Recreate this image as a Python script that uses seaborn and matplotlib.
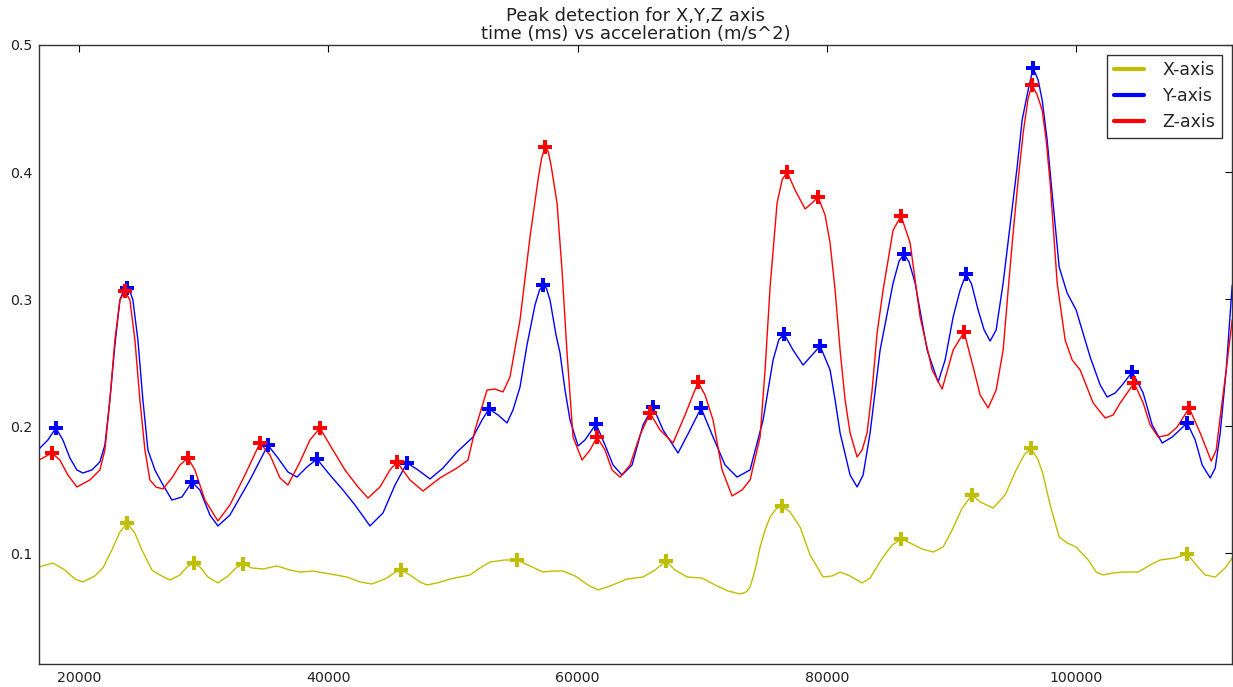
import matplotlib
matplotlib.use("Agg")
import matplotlib.pyplot as plt
import seaborn as sns
import pandas as pd

# ---- accelerometer magnitudes (time in ms) ----
x_time = [16800, 17914, 18877, 19679, 20321, 21284, 21926, 22648, 23290, 23851, 24493, 25055,
          25456, 25857, 26339, 27302, 28104, 28666, 29228, 29709, 30351, 31153, 31956, 32598,
          33159, 33881, 34764, 35887, 36931, 37733, 38776, 40140, 41504, 42547, 43510, 44152,
          44714, 45276, 45837, 46559, 47362, 47923, 48726, 49769, 51374, 52176, 52979, 54182,
          55145, 56188, 57231, 58034, 58836, 59799, 60842, 61645, 62607, 63971, 65255, 66218,
          67101, 67823, 68786, 69989, 71033, 72076, 73039, 73520, 73841, 74242, 74643, 75045,
          75446, 75900, 76409, 77051, 77853, 78655, 79699, 80421, 81063, 81865, 82828, 83470,
          84112, 84513, 85235, 85957, 86679, 87642, 88525, 89327, 90049, 90852, 91654, 92296,
          93339, 94302, 95185, 95827, 96388, 96950, 97311, 97913, 98635, 99277, 99999, 100962,
          101604, 102166, 102968, 103771, 104974, 105937, 106739, 107943, 108906, 109628,
          110350, 111153, 111955, 112517]
x_acc = [0.0890, 0.0921, 0.0866, 0.0795, 0.0772, 0.0819, 0.0882, 0.1024, 0.1165, 0.1236, 0.1157,
         0.1024, 0.0945, 0.0866, 0.0835, 0.0787, 0.0827, 0.0890, 0.0921, 0.0890, 0.0811, 0.0764,
         0.0819, 0.0882, 0.0913, 0.0882, 0.0874, 0.0898, 0.0866, 0.0850, 0.0858, 0.0835, 0.0811,
         0.0772, 0.0756, 0.0780, 0.0803, 0.0843, 0.0866, 0.0827, 0.0772, 0.0748, 0.0764, 0.0795,
         0.0827, 0.0882, 0.0929, 0.0945, 0.0945, 0.0898, 0.0850, 0.0858, 0.0858, 0.0819, 0.0748,
         0.0709, 0.0740, 0.0795, 0.0811, 0.0866, 0.0937, 0.0866, 0.0811, 0.0803, 0.0748, 0.0701,
         0.0677, 0.0693, 0.0732, 0.0866, 0.1047, 0.1181, 0.1283, 0.1345, 0.1370, 0.1323, 0.1205,
         0.0984, 0.0811, 0.0819, 0.0850, 0.0819, 0.0764, 0.0803, 0.0906, 0.0969, 0.1063, 0.1110,
         0.1079, 0.1031, 0.1008, 0.1047, 0.1181, 0.1354, 0.1457, 0.1402, 0.1354, 0.1457, 0.1654,
         0.1772, 0.1827, 0.1732, 0.1630, 0.1378, 0.1126, 0.1079, 0.1047, 0.0945, 0.0850, 0.0827,
         0.0843, 0.0850, 0.0850, 0.0906, 0.0945, 0.0961, 0.0992, 0.0906, 0.0827, 0.0811, 0.0882,
         0.0961]

y_time = [16800, 17513, 18154, 18716, 19278, 19839, 20321, 21043, 21685, 22086, 22487, 22889,
          23290, 23600, 23851, 24100, 24333, 24734, 25135, 25537, 26098, 26660, 27462, 28265,
          29067, 29709, 30511, 31153, 32116, 33721, 35165, 35968, 36770, 37492, 38295, 39097,
          40140, 41183, 42146, 43350, 44393, 45356, 46319, 47201, 48164, 49207, 50331, 51615,
          52337, 52898, 53621, 54343, 54824, 55386, 55947, 56589, 56950, 57231, 57500, 57793,
          58274, 58595, 58997, 59398, 60040, 60601, 61484, 62206, 62848, 63570, 64373, 65255,
          66058, 66860, 68064, 69027, 69909, 70872, 71835, 72798, 73841, 74884, 75687, 76150,
          76569, 77291, 78094, 78816, 79458, 80260, 80661, 81063, 81865, 82427, 82908, 83470,
          84272, 85315, 85800, 86198, 86600, 87081, 88043, 88926, 89488, 90130, 90691, 91173,
          91600, 92136, 92617, 93099, 93580, 94142, 94703, 95265, 95666, 96148, 96549, 96950,
          97271, 97672, 97994, 98635, 99277, 99999, 101123, 101925, 102487, 103129, 103690,
          104493, 105375, 106097, 106900, 107702, 108906, 109548, 110109, 110751, 111153,
          111554, 112035, 112517]
y_acc = [0.1819, 0.1890, 0.1984, 0.1890, 0.1748, 0.1654, 0.1630, 0.1654, 0.1717, 0.1850, 0.2205,
         0.2638, 0.2992, 0.3070, 0.3087, 0.3060, 0.2992, 0.2677, 0.2205, 0.1811, 0.1654, 0.1551,
         0.1417, 0.1441, 0.1559, 0.1496, 0.1299, 0.1213, 0.1299, 0.1575, 0.1850, 0.1748, 0.1638,
         0.1598, 0.1677, 0.1740, 0.1614, 0.1496, 0.1378, 0.1213, 0.1315, 0.1535, 0.1709, 0.1654,
         0.1583, 0.1669, 0.1795, 0.1913, 0.2047, 0.2134, 0.2087, 0.2024, 0.2126, 0.2307, 0.2638,
         0.2953, 0.3070, 0.3110, 0.3085, 0.2992, 0.2717, 0.2575, 0.2283, 0.2047, 0.1843, 0.1890,
         0.2016, 0.1850, 0.1693, 0.1614, 0.1693, 0.2008, 0.2150, 0.1969, 0.1787, 0.1969, 0.2142,
         0.1913, 0.1693, 0.1598, 0.1654, 0.2047, 0.2520, 0.2680, 0.2724, 0.2598, 0.2480, 0.2559,
         0.2630, 0.2441, 0.2205, 0.1945, 0.1614, 0.1520, 0.1614, 0.1945, 0.2598, 0.3126, 0.3300,
         0.3354, 0.3290, 0.3126, 0.2598, 0.2346, 0.2520, 0.2858, 0.3071, 0.3197, 0.3120, 0.2913,
         0.2756, 0.2669, 0.2756, 0.3126, 0.3583, 0.4039, 0.4409, 0.4646, 0.4819, 0.4724, 0.4567,
         0.4252, 0.3913, 0.3252, 0.3047, 0.2913, 0.2543, 0.2323, 0.2228, 0.2260, 0.2323, 0.2425,
         0.2260, 0.2008, 0.1866, 0.1913, 0.2024, 0.1890, 0.1693, 0.1591, 0.1669, 0.1945, 0.2441,
         0.3110]

z_time = [16800, 17833, 18475, 19117, 19839, 20883, 21685, 22086, 22487, 22889, 23290, 23691,
          24092, 24493, 24895, 25296, 25697, 26178, 26740, 27462, 28104, 28746, 29308, 30110,
          31153, 32116, 33320, 34523, 35326, 36128, 36770, 37733, 38535, 39338, 40140, 41344,
          42387, 43189, 44152, 44955, 45516, 46559, 47603, 48967, 50331, 51213, 51775, 52738,
          53380, 54022, 54583, 55386, 56188, 56830, 57120, 57392, 57650, 57873, 58355, 58756,
          59157, 59639, 60361, 61003, 61564, 62206, 62768, 63410, 64212, 65015, 65817, 66619,
          67663, 68625, 69669, 70230, 70872, 71594, 72397, 73199, 73841, 74643, 75045, 75446,
          76007, 76420, 76810, 77452, 78254, 78816, 79297, 79859, 80260, 80661, 81063, 81464,
          81865, 82427, 82828, 83229, 83630, 84031, 84513, 85315, 85957, 86679, 87081, 87482,
          88445, 89247, 90130, 91012, 91735, 92296, 92938, 93580, 94142, 94543, 94944, 95345,
          95747, 96148, 96469, 96870, 97271, 97592, 97913, 98475, 99117, 99678, 100320, 101364,
          102326, 102968, 103530, 104653, 105375, 105937, 106579, 107381, 108103, 109066,
          109949, 110833, 111233, 111554, 112035, 112517]
z_acc = [0.1732, 0.1787, 0.1732, 0.1614, 0.1520, 0.1575, 0.1654, 0.1811, 0.2205, 0.2677, 0.2992,
         0.3063, 0.2992, 0.2677, 0.2205, 0.1811, 0.1575, 0.1520, 0.1504, 0.1591, 0.1693, 0.1748,
         0.1654, 0.1417, 0.1252, 0.1378, 0.1614, 0.1866, 0.1772, 0.1591, 0.1535, 0.1717, 0.1890,
         0.1984, 0.1850, 0.1654, 0.1520, 0.1433, 0.1520, 0.1654, 0.1717, 0.1575, 0.1488, 0.1591,
         0.1669, 0.1732, 0.1969, 0.2283, 0.2291, 0.2268, 0.2386, 0.2835, 0.3488, 0.3937, 0.4110,
         0.4197, 0.4160, 0.4055, 0.3756, 0.3228, 0.2575, 0.1913, 0.1732, 0.1811, 0.1913, 0.1811,
         0.1654, 0.1598, 0.1693, 0.1929, 0.2102, 0.1969, 0.1866, 0.2087, 0.2346, 0.2244, 0.2047,
         0.1654, 0.1449, 0.1496, 0.1575, 0.1913, 0.2441, 0.3094, 0.3756, 0.3940, 0.4000, 0.3858,
         0.3709, 0.3756, 0.3803, 0.3661, 0.3441, 0.3071, 0.2598, 0.2205, 0.1945, 0.1756, 0.1811,
         0.1945, 0.2283, 0.2732, 0.3071, 0.3543, 0.3654, 0.3441, 0.3150, 0.2858, 0.2441, 0.2291,
         0.2598, 0.2740, 0.2465, 0.2244, 0.2142, 0.2283, 0.2598, 0.3071, 0.3520, 0.3937, 0.4307,
         0.4583, 0.4685, 0.4606, 0.4488, 0.4252, 0.3913, 0.3126, 0.2677, 0.2520, 0.2441, 0.2181,
         0.2063, 0.2087, 0.2181, 0.2339, 0.2181, 0.2008, 0.1913, 0.1929, 0.1992, 0.2142, 0.1945,
         0.1724, 0.1811, 0.2071, 0.2441, 0.2835]

# ---- detected peaks ----
x_peak_time = [23851, 29228, 33159, 45837, 55145, 67101, 76409, 85957, 91654, 96388, 108906]
x_peak_acc = [0.1236, 0.0921, 0.0913, 0.0866, 0.0945, 0.0937, 0.1370, 0.1110, 0.1457, 0.1827, 0.0992]

y_peak_time = [18154, 23851, 29067, 35165, 39097, 46319, 52898, 57231, 61484, 66058, 69909,
               76569, 79458, 86198, 91173, 96549, 104493, 108906]
y_peak_acc = [0.1984, 0.3087, 0.1559, 0.1850, 0.1740, 0.1709, 0.2134, 0.3110, 0.2016, 0.2150,
              0.2142, 0.2724, 0.2630, 0.3354, 0.3197, 0.4819, 0.2425, 0.2024]

z_peak_time = [17833, 23691, 28746, 34523, 39338, 45516, 57392, 61564, 65817, 69669, 76810,
               79297, 85957, 91012, 96469, 104653, 109066]
z_peak_acc = [0.1787, 0.3063, 0.1748, 0.1866, 0.1984, 0.1717, 0.4197, 0.1913, 0.2102, 0.2346,
              0.4000, 0.3803, 0.3654, 0.2740, 0.4685, 0.2339, 0.2142]

series = [
    ("X-axis", x_time, x_acc, x_peak_time, x_peak_acc, (0.75, 0.75, 0.0)),
    ("Y-axis", y_time, y_acc, y_peak_time, y_peak_acc, (0.0, 0.0, 1.0)),
    ("Z-axis", z_time, z_acc, z_peak_time, z_peak_acc, (1.0, 0.0, 0.0)),
]

sns.set_style("white")
plt.rcParams["font.family"] = ["DejaVu Sans"]
plt.rcParams["xtick.direction"] = "in"
plt.rcParams["ytick.direction"] = "in"

fig = plt.figure(figsize=(12.33, 6.87), dpi=100)
ax = fig.add_axes([39 / 1233, 23 / 687, 1193 / 1233, 619 / 687])

for name, t, a, pt, pa, col in series:
    line_df = pd.DataFrame({"time": t, "acc": a})
    peak_df = pd.DataFrame({"time": pt, "acc": pa})
    sns.lineplot(data=line_df, x="time", y="acc", color=col, linewidth=1.0,
                 sort=False, estimator=None, label=name, ax=ax)
    sns.scatterplot(data=peak_df, x="time", y="acc", color=col, marker="P",
                    s=95, linewidth=0, zorder=5, ax=ax)

ax.set_xlim(16800, 112500)
ax.set_ylim(0.0126, 0.5)
ax.set_xticks([20000, 40000, 60000, 80000, 100000])
ax.set_yticks([0.1, 0.2, 0.3, 0.4, 0.5])
ax.set_yticklabels(["0.1", "0.2", "0.3", "0.4", "0.5"])
ax.set_xlabel("")
ax.set_ylabel("")
ax.tick_params(axis="both", which="major", labelsize=10.2, length=5, width=0.8,
               top=True, right=True, color="black", labelcolor="#222222", pad=5)
for sp in ax.spines.values():
    sp.set_visible(True)
    sp.set_color("#333333")
    sp.set_linewidth(1.0)

ax.set_title("Peak detection for X,Y,Z axis\ntime (ms) vs acceleration (m/s^2)",
             fontsize=13, pad=4, color="#222222", linespacing=1.0)

leg = ax.legend(loc="upper right", fontsize=12.5, frameon=True, fancybox=False,
                edgecolor="black", handlelength=1.7, handletextpad=1.1,
                borderaxespad=0.55, labelspacing=0.45, borderpad=0.4)
leg.get_frame().set_linewidth(1.0)
for h in leg.get_lines():
    h.set_linewidth(3.0)

fig.savefig("out.png", dpi=100)
